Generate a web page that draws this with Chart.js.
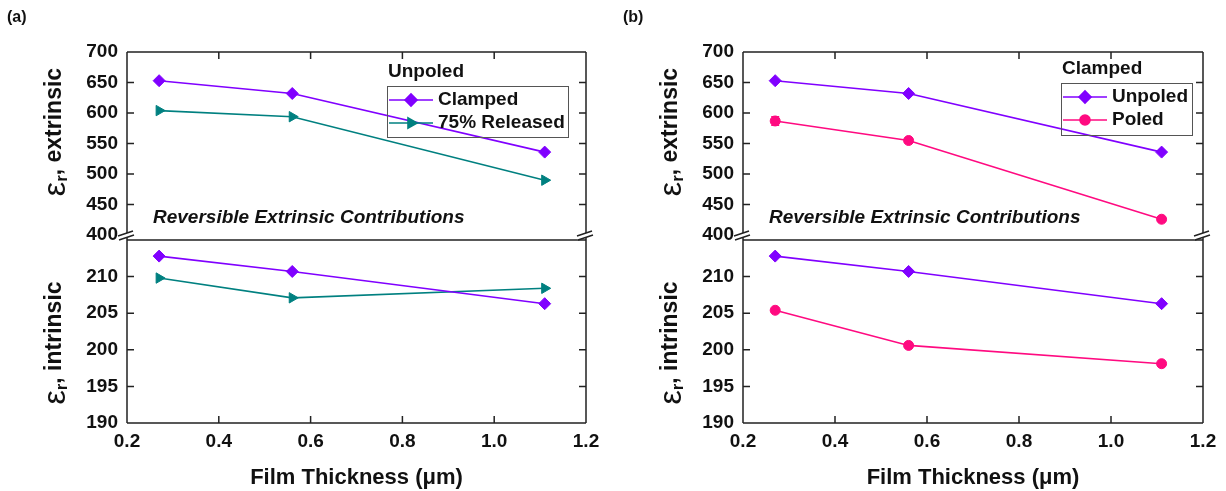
<!DOCTYPE html>
<html>
<head>
<meta charset="utf-8">
<script src="https://cdn.jsdelivr.net/npm/chart.js@4.4.1/dist/chart.umd.min.js"></script>
<style>
  html, body { margin: 0; padding: 0; background: #fff; }
  #wrap { position: relative; width: 1226px; height: 491px; }
  .panel { position: absolute; top: 0; width: 613px; height: 491px; }
</style>
</head>
<body>
<div id="wrap">
  <div class="panel" style="left:0"><canvas id="chartA" width="613" height="491"></canvas></div>
  <div class="panel" style="left:613px"><canvas id="chartB" width="613" height="491"></canvas></div>
</div>
<script>
const thickness = [0.27, 0.56, 1.11];
const xTicks = [0.2, 0.4, 0.6, 0.8, 1.0, 1.2];
const xTickLabels = ["0.2", "0.4", "0.6", "0.8", "1.0", "1.2"];
const extrinsicTicks = [400, 450, 500, 550, 600, 650, 700];
const intrinsicTicks = [190, 195, 200, 205, 210];

// (a) unpoled films, clamped vs partly released
const clampedExtrinsic = [653, 632, 536];
const releasedExtrinsic = [604, 594, 490];
const clampedIntrinsic = [212.8, 210.7, 206.3];
const releasedIntrinsic = [209.8, 207.1, 208.4];

// (b) clamped films, unpoled vs poled
const unpoledExtrinsic = [653, 632, 536];
const poledExtrinsic = [587, 555, 426];
const poledExtrinsicErr = [7, 3, 3];
const unpoledIntrinsic = [212.8, 210.7, 206.3];
const poledIntrinsic = [205.4, 200.6, 198.1];

const PURPLE = "#8000ff";
const TEAL = "#008080";
const PINK = "#ff0a80";
const FONT = "\"Liberation Sans\", Arial, sans-serif";
const INK = "#111";

function series (label, ys, axis, color, style, extra) {
  return Object.assign({
    label,
    yAxisID: axis,
    data: ys.map((y, i) => ({ x: thickness[i], y })),
    borderColor: color,
    backgroundColor: color,
    borderWidth: 1.6,
    pointStyle: style,
    pointRadius: style === "circle" ? 5 : 6,
    pointBorderWidth: 1,
    pointRotation: style === "triangle" ? 90 : 0,
    tension: 0
  }, extra || {});
}

// rotated axis title with a subscripted r after the epsilon
function drawSubTitle (ctx, cx, cy, rest) {
  ctx.save();
  ctx.translate(cx, cy);
  ctx.rotate(-Math.PI / 2);
  ctx.fillStyle = INK;
  ctx.textBaseline = "middle";
  ctx.textAlign = "left";
  const symFont = "32px " + FONT;
  const subFont = "bold 17px " + FONT;
  const mainFont = "bold 23px " + FONT;
  ctx.font = symFont; const w1 = ctx.measureText("ε").width;
  ctx.font = subFont; const w2 = ctx.measureText("r").width;
  ctx.font = mainFont; const w3 = ctx.measureText(rest).width;
  let x0 = -(w1 + w2 + w3) / 2;
  ctx.font = symFont; ctx.fillText("ε", x0, 1); x0 += w1;
  ctx.font = subFont; ctx.fillText("r", x0, 7); x0 += w2;
  ctx.font = mainFont; ctx.fillText(rest, x0, 0);
  ctx.restore();
}

const framePlugin = {
  id: "frame",
  beforeDatasetsDraw (chart) {
    const ctx = chart.ctx;
    chart.data.datasets.forEach((ds, i) => {
      if (!ds.errors) return;
      const ys = chart.scales[ds.yAxisID];
      const meta = chart.getDatasetMeta(i);
      ctx.save();
      ctx.strokeStyle = ds.borderColor;
      ctx.lineWidth = 1.5;
      meta.data.forEach((pt, j) => {
        const e = ds.errors[j];
        if (!e) return;
        const v = ds.data[j].y;
        const y1 = ys.getPixelForValue(v + e);
        const y2 = ys.getPixelForValue(v - e);
        ctx.beginPath();
        ctx.moveTo(pt.x, y1); ctx.lineTo(pt.x, y2);
        ctx.moveTo(pt.x - 4, y1); ctx.lineTo(pt.x + 4, y1);
        ctx.moveTo(pt.x - 4, y2); ctx.lineTo(pt.x + 4, y2);
        ctx.stroke();
      });
      ctx.restore();
    });
  },
  afterDraw (chart, args, opts) {
    const { ctx, chartArea: a, scales } = chart;
    const xs = scales.x;
    const yt = scales.yTop;
    const yb = scales.yBot;
    const B = yb.top;
    const T = 7;

    ctx.save();
    ctx.strokeStyle = "#222";
    ctx.lineWidth = 1.5;
    ctx.beginPath();
    ctx.moveTo(a.left, a.top); ctx.lineTo(a.right, a.top);
    ctx.moveTo(a.left, a.bottom); ctx.lineTo(a.right, a.bottom);
    ctx.moveTo(a.left, B); ctx.lineTo(a.right, B);
    [a.left, a.right].forEach((sx) => { ctx.moveTo(sx, a.top); ctx.lineTo(sx, a.bottom); });
    // inward ticks
    xTicks.slice(1, -1).forEach((v) => {
      const px = xs.getPixelForValue(v);
      ctx.moveTo(px, a.top); ctx.lineTo(px, a.top + T);
      ctx.moveTo(px, a.bottom); ctx.lineTo(px, a.bottom - T);
    });
    extrinsicTicks.slice(1, -1).forEach((v) => {
      const py = yt.getPixelForValue(v);
      ctx.moveTo(a.left, py); ctx.lineTo(a.left + T, py);
      ctx.moveTo(a.right, py); ctx.lineTo(a.right - T, py);
    });
    intrinsicTicks.slice(1).forEach((v) => {
      const py = yb.getPixelForValue(v);
      ctx.moveTo(a.left, py); ctx.lineTo(a.left + T, py);
      ctx.moveTo(a.right, py); ctx.lineTo(a.right - T, py);
    });
    ctx.stroke();

    // axis break marks
    [a.left, a.right].forEach((sx) => {
      ctx.fillStyle = "#fff";
      ctx.beginPath();
      ctx.moveTo(sx - 9, B - 4); ctx.lineTo(sx + 6, B - 9);
      ctx.lineTo(sx + 7, B - 5); ctx.lineTo(sx - 8, B);
      ctx.closePath();
      ctx.fill();
      ctx.beginPath();
      ctx.moveTo(sx - 9, B - 4); ctx.lineTo(sx + 6, B - 9);
      ctx.moveTo(sx - 8, B); ctx.lineTo(sx + 7, B - 5);
      ctx.stroke();
    });

    // panel letter
    ctx.fillStyle = INK;
    ctx.textBaseline = "middle";
    ctx.textAlign = "left";
    ctx.font = "bold 16px " + FONT;
    ctx.fillText(opts.panel, opts.panelX, 18);

    // note inside the extrinsic section
    ctx.font = "italic bold 19px " + FONT;
    ctx.fillText("Reversible Extrinsic Contributions", a.left + 26, a.top + 166);

    // y titles
    drawSubTitle(ctx, a.left - 72, 132, ", extrinsic");
    drawSubTitle(ctx, a.left - 72, 343, ", intrinsic");

    // legend
    const lg = opts.legend;
    const bx = a.left + lg.dx;
    const by = a.top + lg.dy;
    ctx.strokeStyle = "#555";
    ctx.lineWidth = 1;
    ctx.strokeRect(bx + 0.5, by + 0.5, lg.w, lg.h);
    ctx.font = "bold 19px " + FONT;
    ctx.fillStyle = INK;
    ctx.fillText(lg.title, bx + 1, by - 14);
    lg.items.forEach((di, k) => {
      const ds = chart.data.datasets[di];
      const ry = by + 14 + k * 23;
      ctx.strokeStyle = ds.borderColor;
      ctx.lineWidth = ds.borderWidth;
      ctx.beginPath();
      ctx.moveTo(bx + 2, ry); ctx.lineTo(bx + 46, ry);
      ctx.stroke();
      ctx.fillStyle = ds.backgroundColor;
      Chart.helpers.drawPoint(ctx, {
        pointStyle: ds.pointStyle,
        radius: ds.pointRadius,
        rotation: ds.pointRotation,
        borderWidth: 1
      }, bx + 24, ry);
      ctx.fillStyle = INK;
      ctx.fillText(ds.label, bx + 51, ry);
    });
    ctx.restore();
  }
};

function makeChart (id, datasets, leftW, rightPad, frameOpts) {
  const tickFont = { family: FONT, size: 19, weight: "bold" };
  const yCommon = {
    type: "linear",
    position: "left",
    stack: "eps",
    grid: { display: false, drawTicks: false },
    border: { display: false },
    ticks: { font: tickFont, color: INK, padding: 9, autoSkip: false },
    afterFit: (s) => { s.width = leftW; }
  };
  return new Chart(document.getElementById(id), {
    type: "line",
    data: { datasets },
    options: {
      responsive: false,
      animation: false,
      events: [],
      layout: { padding: { top: 52, right: rightPad, left: 0, bottom: 0 } },
      plugins: {
        legend: { display: false },
        tooltip: { enabled: false },
        frame: frameOpts
      },
      scales: {
        x: {
          type: "linear",
          min: 0.2,
          max: 1.2,
          afterBuildTicks: (s) => { s.ticks = xTicks.map((v) => ({ value: v })); },
          ticks: {
            font: tickFont,
            color: INK,
            padding: 7,
            maxRotation: 0,
            autoSkip: false,
            callback: (v, i) => xTickLabels[i]
          },
          grid: { display: false, drawTicks: false },
          border: { display: false },
          title: {
            display: true,
            text: "Film Thickness (μm)",
            color: INK,
            font: { family: FONT, size: 22, weight: "bold" },
            padding: { top: 0, bottom: 0 }
          },
          afterFit: (s) => { s.height = 68; }
        },
        yBot: Object.assign({}, yCommon, {
          min: 190,
          max: 215,
          stackWeight: 183,
          afterBuildTicks: (s) => { s.ticks = intrinsicTicks.map((v) => ({ value: v })); }
        }),
        yTop: Object.assign({}, yCommon, {
          min: 392,
          max: 700,
          stackWeight: 188,
          afterBuildTicks: (s) => { s.ticks = extrinsicTicks.map((v) => ({ value: v })); }
        })
      }
    },
    plugins: [framePlugin]
  });
}

makeChart("chartA", [
  series("Clamped", clampedExtrinsic, "yTop", PURPLE, "rectRot"),
  series("75% Released", releasedExtrinsic, "yTop", TEAL, "triangle"),
  series("Clamped", clampedIntrinsic, "yBot", PURPLE, "rectRot"),
  series("75% Released", releasedIntrinsic, "yBot", TEAL, "triangle")
], 127, 27, {
  panel: "(a)",
  panelX: 7,
  legend: { title: "Unpoled", dx: 260, dy: 34, w: 181, h: 51, items: [0, 1] }
});

makeChart("chartB", [
  series("Unpoled", unpoledExtrinsic, "yTop", PURPLE, "rectRot"),
  series("Poled", poledExtrinsic, "yTop", PINK, "circle", { errors: poledExtrinsicErr }),
  series("Unpoled", unpoledIntrinsic, "yBot", PURPLE, "rectRot"),
  series("Poled", poledIntrinsic, "yBot", PINK, "circle")
], 130, 23, {
  panel: "(b)",
  panelX: 10,
  legend: { title: "Clamped", dx: 318, dy: 31, w: 131, h: 52, items: [0, 1] }
});
</script>
</body>
</html>
